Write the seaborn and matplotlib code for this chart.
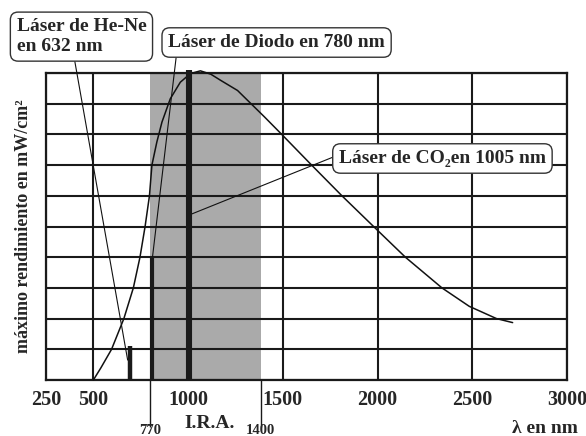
import numpy as np
import pandas as pd
import matplotlib
matplotlib.use("Agg")
import matplotlib.pyplot as plt
import seaborn as sns

# curva de emisión (lambda en nm, rendimiento en divisiones)
curve_nm = [500, 540, 596, 661, 711, 746, 773, 796, 809, 835, 862, 906, 959,
            1012, 1065, 1120, 1172, 1261, 1332, 1403, 1491, 1652, 1812, 1979,
            2147, 2340, 2484, 2628, 2713]
curve_val = [0.0, 0.4, 1.0, 2.0, 3.0, 4.0, 5.0, 6.0, 7.0, 7.75, 8.4, 9.16,
             9.7, 9.98, 10.07, 9.96, 9.76, 9.43, 9.0, 8.57, 8.02, 7.0, 6.0,
             5.0, 4.0, 3.0, 2.4, 2.0, 1.87]

# laseres: posicion en el dibujo, altura de la barra
laser_nm = [691, 809, 1005]
laser_val = [1.1, 4.0, 10.1]
laser_lw = [3.2, 3.0, 4.4]

# banda I.R.A.
ira_band = [798, 1383]
ira_labels = ["770", "1400"]

xticks = [250, 500, 1000, 1500, 2000, 2500, 3000]

sns.set_theme(style="white")
plt.rcParams['font.family'] = ['Liberation Serif', 'DejaVu Serif']
plt.rcParams['font.weight'] = 'bold'

fig, ax = plt.subplots(figsize=(5.86, 4.36), dpi=100)
fig.subplots_adjust(left=0.0785, right=0.9676, bottom=0.1284, top=0.8326)

ax.axvspan(ira_band[0], ira_band[1], color='#aaaaaa', zorder=0, lw=0)

ax.set_xlim(250, 3000)
ax.set_ylim(0, 10)
ax.set_xticks(xticks)
ax.set_xticklabels([str(t) for t in xticks], fontsize=14.5, fontweight='bold')
ax.set_yticks(range(0, 11))
ax.set_yticklabels([])
ax.tick_params(length=0, pad=7)
ax.grid(True, color='#1a1a1a', lw=1.5, zorder=1)
ax.set_axisbelow(False)
for s in ax.spines.values():
    s.set_color('#1a1a1a')
    s.set_linewidth(1.6)

df = pd.DataFrame({"nm": curve_nm, "val": curve_val})
sns.lineplot(data=df, x="nm", y="val", ax=ax, color='#111111', lw=1.1,
             zorder=3, clip_on=False)
ax.set_xlabel("")

for x, h, w in zip(laser_nm, laser_val, laser_lw):
    ax.vlines(x, 0, h, color='#1a1a1a', lw=w, zorder=4, clip_on=False)

# lineas de la banda hasta debajo del eje
ax.vlines(ira_band, -1.53, 0, color='#1a1a1a', lw=1.0, clip_on=False)
for x, lab in zip(ira_band, ira_labels):
    ax.text(x, -1.77, lab, ha='center', va='baseline', fontsize=10.5,
            fontweight='bold', clip_on=False)
ax.text(1112, -1.43, "I.R.A.", ha='center', va='center', fontsize=14,
        fontweight='bold')

ax.set_ylabel("máximo rendimiento en mW/cm²", fontsize=13, fontweight='bold',
              labelpad=3)
fig.text(0.930, 0.008, "λ en nm", ha='center', va='baseline', fontsize=14,
         fontweight='bold')

box = dict(boxstyle="round,pad=0.32,rounding_size=0.4", fc='white',
           ec='#333333', lw=1.0)
arr = dict(arrowstyle='-', color='#111111', lw=0.8, shrinkA=0, shrinkB=0)

ax.annotate("Láser de He-Ne\nen 632 nm", xy=(681, 0.65),
            xytext=(0.139, 0.916), textcoords='figure fraction',
            ha='center', va='center', multialignment='left', fontsize=14,
            fontweight='bold', bbox=box,
            arrowprops=dict(arr, relpos=(0.44, 0)), annotation_clip=False)
ax.annotate("Láser de Diodo en 780 nm", xy=(812, 4.0),
            xytext=(0.472, 0.9025), textcoords='figure fraction',
            ha='center', va='center', fontsize=14, fontweight='bold', bbox=box,
            arrowprops=dict(arr, relpos=(0.04, 0)), annotation_clip=False)
ax.annotate("Láser de CO₂en 1005 nm", xy=(1016, 5.4),
            xytext=(0.755, 0.6365), textcoords='figure fraction',
            ha='center', va='center', fontsize=14, fontweight='bold', bbox=box,
            arrowprops=dict(arr, relpos=(0, 0.72)), annotation_clip=False)

fig.savefig("out.png", dpi=100)
